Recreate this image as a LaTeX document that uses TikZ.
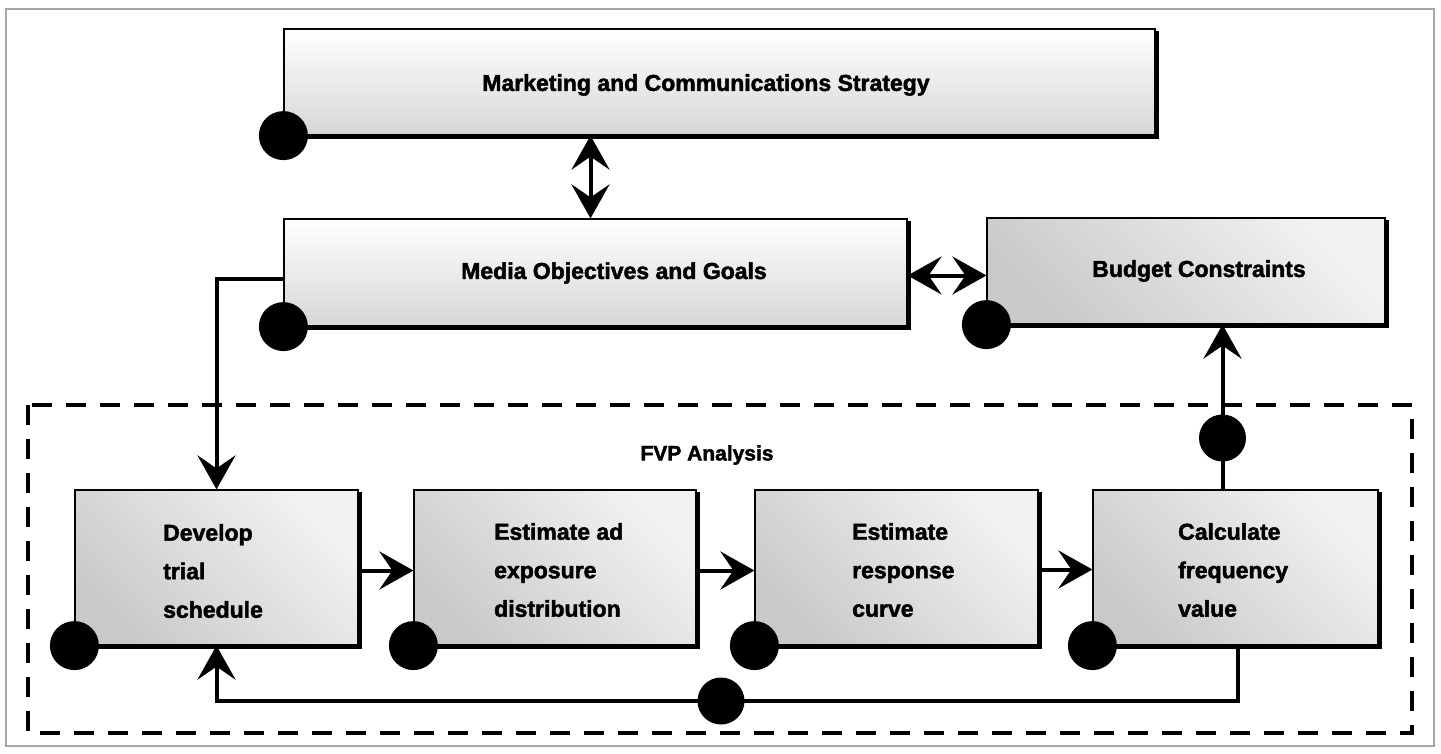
\documentclass[tikz,border=0pt]{standalone}
\usepackage{fontspec}
\setmainfont{Liberation Sans}[BoldFeatures={FakeBold=2}]
\usetikzlibrary{arrows.meta,calc}
\newcommand\boxshadow[1]{\draw[line width=4pt] ([xshift=1pt,yshift=-3pt]#1.north east) -- ([xshift=1pt,yshift=-1pt]#1.south east) -- ([xshift=3pt,yshift=-1pt]#1.south west);}
\begin{document}
\begin{tikzpicture}[x=1pt,y=-1pt,
  box/.style={draw=black, line width=1.2pt, inner sep=0pt, bottom color=gray!42, top color=gray!10, shading angle=-45},
  lightbox/.style={box, bottom color=gray!32, top color=white},
  txt/.style={font=\fontsize{23}{38.5}\selectfont\bfseries, align=left, inner sep=0pt},
  arr/.style={line width=4pt, -{Stealth[length=34pt,width=38pt,inset=13pt]}},
  dbl/.style={line width=4pt, {Stealth[length=34pt,width=38pt,inset=13pt]}-{Stealth[length=34pt,width=38pt,inset=13pt]}},
  dot/.style={circle, fill=black, minimum size=49pt, inner sep=0pt},
  ldot/.style={dot, minimum size=47pt},
  frame/.style={line width=3.5pt, dash pattern=on 20pt off 14pt}
]
\useasboundingbox (0,0) rectangle (1441,753);
\draw[gray!70, line width=1.5pt] (6,9) rectangle (1434,746);

% FVP dashed region
\draw[frame] (28,405) rectangle (1412,733);
\node[font=\fontsize{21}{24}\selectfont\bfseries, inner sep=0pt] (fvp) at (707,455) {FVP Analysis};

% top boxes
\node[lightbox, minimum width=871pt, minimum height=106pt] (mkt) at (719.5,82) {};
\boxshadow{mkt}
\node[txt] (tmkt) at (706,85) {Marketing and Communications Strategy};

\node[lightbox, minimum width=623pt, minimum height=107pt] (media) at (595.5,272.5) {};
\boxshadow{media}
\node[txt] (tmedia) at (614,273) {Media Objectives and Goals};

\node[box, minimum width=398pt, minimum height=106pt] (budget) at (1186,271) {};
\boxshadow{budget}
\node[txt] (tbudget) at (1199,271) {Budget Constraints};

% row boxes
\node[box, minimum width=283pt, minimum height=155pt] (dev) at (216.5,567.5) {};
\boxshadow{dev}
\node[txt, anchor=west] (tdev) at (163,571) {Develop\\trial\\schedule};

\node[box, minimum width=282pt, minimum height=155pt] (estad) at (555,567.5) {};
\boxshadow{estad}
\node[txt, anchor=west] (testad) at (494,570) {Estimate ad\\exposure\\distribution};

\node[box, minimum width=283pt, minimum height=155pt] (estresp) at (896.5,567.5) {};
\boxshadow{estresp}
\node[txt, anchor=west] (testresp) at (852,570) {Estimate\\response\\curve};

\node[box, minimum width=285pt, minimum height=155pt] (calc) at (1235.5,567.5) {};
\boxshadow{calc}
\node[txt, anchor=west] (tcalc) at (1178,570) {Calculate\\frequency\\value};

% connectors
\draw[dbl] ([xshift=-5pt]mkt.south -| media.north) -- ([xshift=-5pt]media.north);
\draw[dbl] ([yshift=-3pt]media.east) -- ([yshift=-3pt]media.east -| budget.west);
\draw[arr] ([yshift=-6pt]media.west) -| (dev.north);
\draw[arr] ([yshift=-3pt]dev.east) -- ([yshift=-3pt]estad.west);
\draw[arr] ([yshift=-3pt]estad.east) -- ([yshift=-3pt]estresp.west);
\draw[arr] ([yshift=-2pt]estresp.east) -- ([yshift=-2pt]calc.west);
\draw[arr] ([xshift=-13pt]calc.north) -- ([xshift=-13pt]calc.north |- budget.south);
\draw[arr] ([xshift=2pt]calc.south) -- ++(0,55) -| (dev.south);

% dots
\node[dot] (dmkt) at (mkt.south west) {};
\node[dot] (dmedia) at (media.south west) {};
\node[dot] (dbudget) at (budget.south west) {};
\node[dot] (ddev) at (dev.south west) {};
\node[dot] (destad) at (estad.south west) {};
\node[dot] (destresp) at (estresp.south west) {};
\node[dot] (dcalc) at (calc.south west) {};
\node[ldot] (j1) at (1222.5,438) {};
\node[ldot] (j2) at (721,701) {};
\end{tikzpicture}
\end{document}
